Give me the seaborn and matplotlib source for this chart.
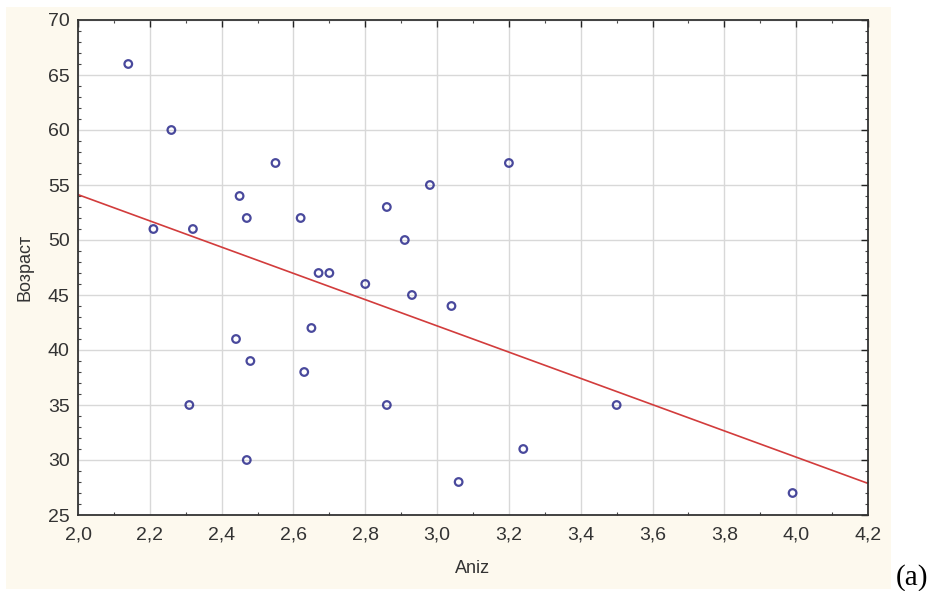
import numpy as np
import pandas as pd
import matplotlib
matplotlib.use("Agg")
import matplotlib.pyplot as plt
import seaborn as sns
from matplotlib.ticker import MultipleLocator, FuncFormatter
from matplotlib.patches import Rectangle

aniz = [2.14, 2.26, 2.21, 2.32, 2.55, 2.45, 2.47, 2.62, 2.67, 2.70, 2.80, 2.86, 2.91, 2.98,
        2.93, 3.04, 3.20, 2.44, 2.48, 2.65, 2.63, 2.31, 2.47, 2.86, 3.06, 3.24, 3.50, 3.99]
age = [66, 60, 51, 51, 57, 54, 52, 52, 47, 47, 46, 53, 50, 55,
       45, 44, 57, 41, 39, 42, 38, 35, 30, 35, 28, 31, 35, 27]
x_ticks = [2.0, 2.2, 2.4, 2.6, 2.8, 3.0, 3.2, 3.4, 3.6, 3.8, 4.0, 4.2]
y_ticks = [25, 30, 35, 40, 45, 50, 55, 60, 65, 70]

df = pd.DataFrame({"Aniz": aniz, "Возраст": age})

sns.set_theme(style="white")
plt.rcParams['font.family'] = ['Liberation Sans', 'DejaVu Sans']

fig = plt.figure(figsize=(9.33, 5.91), dpi=100)
fig.patch.set_facecolor("white")
fig.patches.append(Rectangle((6/933, 1-589/591), (891-6)/933, (589-7)/591,
                             transform=fig.transFigure, facecolor="#fdf9ee",
                             edgecolor="none", zorder=-10))
ax = fig.add_axes([78/933, 1-515/591, (868-78)/933, (515-20)/591])
ax.set_facecolor("white")
ax.set_xlim(2.0, 4.2)
ax.set_ylim(25, 70)

sns.regplot(data=df, x="Aniz", y="Возраст", ax=ax, ci=None, truncate=False,
            scatter_kws=dict(s=30, facecolors="none", edgecolors="#1c1c84",
                             linewidths=1.6, zorder=3),
            line_kws=dict(color="#d23c3c", linewidth=1.2, zorder=2))

ax.set_xlim(2.0, 4.2)
ax.set_ylim(25, 70)
ax.set_xticks(x_ticks)
ax.set_yticks(y_ticks)
ax.xaxis.set_minor_locator(MultipleLocator(0.1))
ax.yaxis.set_minor_locator(MultipleLocator(1))
ax.xaxis.set_major_formatter(FuncFormatter(lambda v, p: f"{v:.1f}".replace(".", ",")))
ax.yaxis.set_major_formatter(FuncFormatter(lambda v, p: f"{int(round(v))}"))
ax.grid(True, which="major", color="#d8d8d8", linewidth=1.0)
ax.set_axisbelow(True)
ax.tick_params(which="major", direction="in", length=5, width=1, color="#222222",
               top=True, right=True, labelsize=14, labelcolor="#333333")
ax.tick_params(axis="x", which="major", pad=8)
ax.tick_params(axis="y", which="major", pad=6)
ax.tick_params(which="minor", direction="in", length=2.5, width=0.8, color="#444444",
               top=True, right=True, bottom=True, left=True)
for s in ax.spines.values():
    s.set_color("#333333")
    s.set_linewidth(1.3)
ax.set_xlabel("Aniz", fontsize=13, color="#333333", labelpad=12)
ax.set_ylabel("Возраст", fontsize=13, color="#333333", labelpad=10)

fig.text(912/933, 1-578/591, "(a)", fontsize=21, family=["Liberation Serif"],
         ha="center", va="center", color="black")

fig.savefig("out.png", dpi=100)
